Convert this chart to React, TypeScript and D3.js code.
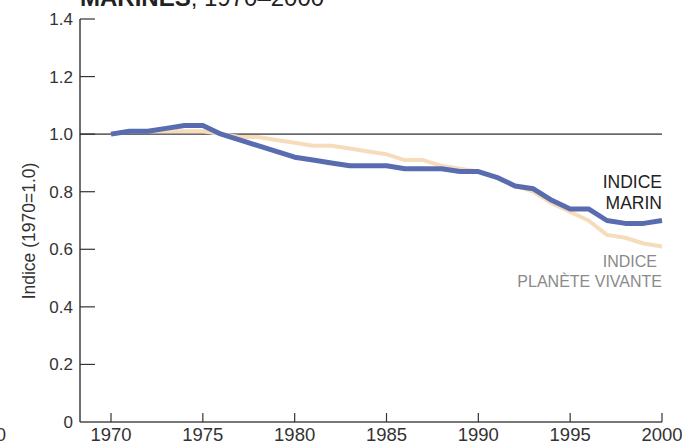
import React from "react";
import * as d3 from "d3";

const years = d3.range(1970, 2001);
const marinValues = [1.0, 1.01, 1.01, 1.02, 1.03, 1.03, 1.0, 0.98, 0.96, 0.94, 0.92, 0.91, 0.9, 0.89, 0.89, 0.89, 0.88, 0.88, 0.88, 0.87, 0.87, 0.85, 0.82, 0.81, 0.77, 0.74, 0.74, 0.7, 0.69, 0.69, 0.7];
const lpiValues = [1.0, 1.01, 1.01, 1.01, 1.01, 1.01, 1.0, 0.99, 0.99, 0.98, 0.97, 0.96, 0.96, 0.95, 0.94, 0.93, 0.91, 0.91, 0.89, 0.88, 0.87, 0.85, 0.82, 0.8, 0.76, 0.73, 0.7, 0.65, 0.64, 0.62, 0.61];
const yTicks = [0, 0.2, 0.4, 0.6, 0.8, 1.0, 1.2, 1.4];
const xTicks = [1970, 1975, 1980, 1985, 1990, 1995, 2000];

const W = 682;
const H = 442;

export default function App() {
  const x = d3.scaleLinear().domain([1970, 2000]).range([111, 662]);
  const y = d3.scaleLinear().domain([0, 1.4]).range([422, 19]);
  const line = d3
    .line<[number, number]>()
    .x((d) => x(d[0]))
    .y((d) => y(d[1]))
    .curve(d3.curveLinear);
  const marin = years.map((yr, i) => [yr, marinValues[i]] as [number, number]);
  const lpi = years.map((yr, i) => [yr, lpiValues[i]] as [number, number]);
  const font = "'Liberation Sans', Arial, sans-serif";
  return (
    <svg
      width={W}
      height={H}
      style={{ position: "absolute", left: 0, top: 0, background: "#fff" }}
    >
      <text x={80} y={6} fontFamily={font} fontSize={24} fill="#222">
        <tspan fontWeight="bold">MARINES</tspan>
        <tspan>, 1970–2000</tspan>
      </text>
      <text x={6} y={441} fontFamily={font} fontSize={18.5} fill="#333" textAnchor="end">
        2000
      </text>
      {/* reference line */}
      <line x1={80} x2={662} y1={y(1)} y2={y(1)} stroke="#6b6b6b" strokeWidth={1.6} />
      {/* axes */}
      <line x1={80} x2={80} y1={y(1.4)} y2={y(0)} stroke="#222" strokeWidth={1.3} />
      <line x1={80} x2={662} y1={y(0)} y2={y(0)} stroke="#4a4a4a" strokeWidth={1.6} />
      {yTicks.map((t) => (
        <g key={t}>
          {t > 0 && (
            <line x1={80} x2={95} y1={y(t)} y2={y(t)} stroke="#333" strokeWidth={1.2} />
          )}
          <text
            x={73}
            y={y(t) + 6}
            textAnchor="end"
            fontFamily={font}
            fontSize={17}
            fill="#333"
          >
            {t === 0 ? "0" : t.toFixed(1)}
          </text>
        </g>
      ))}
      {xTicks.map((t) => (
        <g key={t}>
          <line x1={x(t)} x2={x(t)} y1={y(0)} y2={y(0) - 9} stroke="#333" strokeWidth={1.2} />
          <text
            x={x(t)}
            y={441}
            textAnchor="middle"
            fontFamily={font}
            fontSize={18.5}
            fill="#333"
          >
            {t}
          </text>
        </g>
      ))}
      <text
        transform={`translate(35,231) rotate(-90)`}
        textAnchor="middle"
        fontFamily={font}
        fontSize={17.5}
        fill="#333"
      >
        Indice (1970=1.0)
      </text>
      <path d={line(lpi) || ""} fill="none" stroke="#f7dcbc" strokeWidth={4} strokeLinejoin="round" />
      <path d={line(marin) || ""} fill="none" stroke="#5a6cb0" strokeWidth={5} strokeLinejoin="round" />
      <text x={662} y={188} textAnchor="end" fontFamily={font} fontSize={17.5} fill="#222">
        INDICE
      </text>
      <text x={662} y={209} textAnchor="end" fontFamily={font} fontSize={17.5} fill="#222">
        MARIN
      </text>
      <text x={657} y={267} textAnchor="end" fontFamily={font} fontSize={16} fill="#8a8a8a">
        INDICE
      </text>
      <text x={662} y={287} textAnchor="end" fontFamily={font} fontSize={16} fill="#8a8a8a">
        PLANÈTE VIVANTE
      </text>
    </svg>
  );
}
